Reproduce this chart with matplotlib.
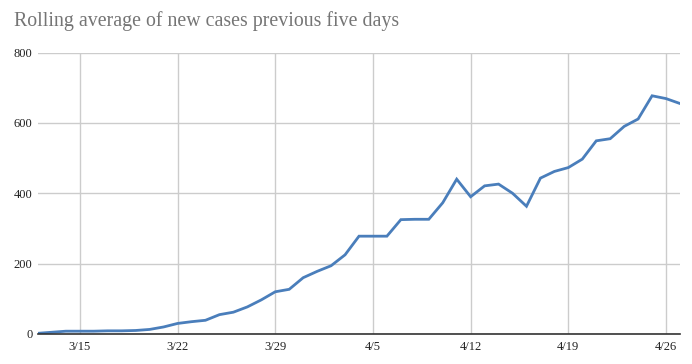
import matplotlib
matplotlib.use("Agg")
import matplotlib.pyplot as plt
import pandas as pd

dates = [
    "2020-03-12", "2020-03-13", "2020-03-14", "2020-03-15", "2020-03-16", "2020-03-17",
    "2020-03-18", "2020-03-19", "2020-03-20", "2020-03-21", "2020-03-22", "2020-03-23",
    "2020-03-24", "2020-03-25", "2020-03-26", "2020-03-27", "2020-03-28", "2020-03-29",
    "2020-03-30", "2020-03-31", "2020-04-01", "2020-04-02", "2020-04-03", "2020-04-04",
    "2020-04-05", "2020-04-06", "2020-04-07", "2020-04-08", "2020-04-09", "2020-04-10",
    "2020-04-11", "2020-04-12", "2020-04-13", "2020-04-14", "2020-04-15", "2020-04-16",
    "2020-04-17", "2020-04-18", "2020-04-19", "2020-04-20", "2020-04-21", "2020-04-22",
    "2020-04-23", "2020-04-24", "2020-04-25", "2020-04-26", "2020-04-27",
]
cases = [
    2, 5, 8, 8, 8, 9,
    9, 10, 13, 20, 30, 35,
    39, 55, 62, 77, 97, 120,
    127, 160, 178, 194, 225, 278,
    278, 278, 325, 326, 326, 373,
    440, 390, 421, 426, 400, 363,
    443, 462, 473, 497, 549, 555,
    590, 611, 677, 669, 655,
]
xtick_dates = ["2020-03-15", "2020-03-22", "2020-03-29", "2020-04-05",
               "2020-04-12", "2020-04-19", "2020-04-26"]
xtick_labels = ["3/15", "3/22", "3/29", "4/5", "4/12", "4/19", "4/26"]
yticks = [0, 200, 400, 600, 800]
title = "Rolling average of new cases previous five days"

x = pd.to_datetime(dates)
xt = pd.to_datetime(xtick_dates)

fig = plt.figure(figsize=(6.92, 3.64), dpi=100)
ax = fig.add_axes([38 / 692, 1 - 334 / 364, (680 - 38) / 692, (334 - 52.5) / 364])

ax.plot(x, cases, color="#4a7ebb", linewidth=2.0, solid_joinstyle="miter", zorder=3)

ax.set_xlim(x[0], x[-1])
ax.set_ylim(0, 800)
ax.set_yticks(yticks)
ax.set_xticks(xt)
ax.set_xticklabels(xtick_labels)

serif = ["Liberation Serif", "DejaVu Serif"]
for lab in ax.get_xticklabels() + ax.get_yticklabels():
    lab.set_family(serif)
    lab.set_fontsize(9)
    lab.set_color("#222222")

ax.grid(True, color="#cccccc", linewidth=1.0, zorder=0)
ax.tick_params(axis="both", length=0)
ax.tick_params(axis="x", pad=5)
ax.tick_params(axis="y", pad=4)
for s in ["top", "right", "left"]:
    ax.spines[s].set_visible(False)
ax.spines["bottom"].set_color("#333333")
ax.spines["bottom"].set_linewidth(1.2)
ax.spines["bottom"].set_zorder(4)

fig.text(14 / 692, 1 - 21 / 364, title, family=serif, fontsize=14.3,
         color="#757575", ha="left", va="center")

fig.savefig("out.png", dpi=100, facecolor="white")
